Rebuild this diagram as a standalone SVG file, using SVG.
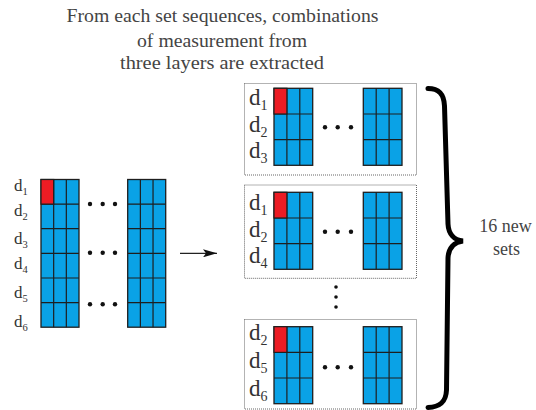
<svg xmlns="http://www.w3.org/2000/svg" xmlns:xlink="http://www.w3.org/1999/xlink" width="536" height="410" viewBox="0 0 536 410">
  <style>
    .txt { fill: #444; font-family: "Liberation Serif", "DejaVu Serif", serif; }
    .lbl { fill: #333; font-family: "Liberation Serif", "DejaVu Serif", serif; }
    .cell { fill: #0aa2e6; stroke: #1e1e1e; stroke-width: 1.3; }
    .grid { stroke: #1e1e1e; stroke-width: 1.2; }
    .red { fill: #ec1c24; stroke: #1e1e1e; stroke-width: 1.2; }
    .frame { fill: none; stroke: #666; stroke-width: 1; stroke-dasharray: 1 1; }
    .dot { fill: #111; }
  </style>
  <defs>
    <!-- 6-row measurement column, 3 cells wide -->
    <g id="col6">
      <rect class="cell" x="0" y="0" width="38" height="147.7"/>
      <path class="grid" d="M12.67,0V147.7M25.33,0V147.7M0,24.6H38M0,49.2H38M0,73.8H38M0,98.5H38M0,123.1H38"/>
    </g>
    <!-- 3-row measurement column, 3 cells wide -->
    <g id="col3">
      <rect class="cell" x="0" y="0" width="38.7" height="77"/>
      <path class="grid" d="M12.9,0V77M25.8,0V77M0,25.7H38.7M0,51.3H38.7"/>
    </g>
    <marker id="arrowhead" markerWidth="14" markerHeight="8" refX="14" refY="4" orient="auto" markerUnits="userSpaceOnUse">
      <path d="M0,0 L14,4 L0,8 L3,4 Z" fill="#111"/>
    </marker>
  </defs>

  <!-- title -->
  <g id="title" class="txt" font-size="18" text-anchor="middle">
    <text x="222.5" y="21.5" textLength="312" lengthAdjust="spacingAndGlyphs">From each set sequences, combinations</text>
    <text x="222" y="46.5" textLength="170" lengthAdjust="spacingAndGlyphs">of measurement from</text>
    <text x="222" y="68.5" textLength="204" lengthAdjust="spacingAndGlyphs">three layers are extracted</text>
  </g>

  <!-- original set with six layers -->
  <g id="source-set">
    <use xlink:href="#col6" x="41" y="179.5"/>
    <rect class="red" x="41" y="179.5" width="12.67" height="24.6"/>
    <use xlink:href="#col6" x="127.7" y="179.5"/>
    <g class="dot">
      <circle cx="90" cy="204" r="2.2"/><circle cx="102.7" cy="204" r="2.2"/><circle cx="115" cy="204" r="2.2"/>
      <circle cx="90" cy="252.7" r="2.2"/><circle cx="102.7" cy="252.7" r="2.2"/><circle cx="115" cy="252.7" r="2.2"/>
      <circle cx="90" cy="304.3" r="2.2"/><circle cx="102.7" cy="304.3" r="2.2"/><circle cx="115" cy="304.3" r="2.2"/>
    </g>
    <g class="lbl" font-size="17">
      <text x="14" y="190.7">d<tspan font-size="10.5" dy="4">1</tspan></text>
      <text x="14" y="215.7">d<tspan font-size="10.5" dy="4">2</tspan></text>
      <text x="14" y="244">d<tspan font-size="10.5" dy="4">3</tspan></text>
      <text x="14" y="269">d<tspan font-size="10.5" dy="4">4</tspan></text>
      <text x="14" y="298">d<tspan font-size="10.5" dy="4">5</tspan></text>
      <text x="14" y="327">d<tspan font-size="10.5" dy="4">6</tspan></text>
    </g>
  </g>

  <!-- connectors -->
  <g id="connectors">
    <line x1="180" y1="253.3" x2="217" y2="253.3" stroke="#222" stroke-width="1.2" marker-end="url(#arrowhead)"/>
  </g>

  <!-- extracted set d1 d2 d3 -->
  <g id="set-d1-d2-d3">
    <rect class="frame" x="244.5" y="83.5" width="172" height="91.5"/>
    <use xlink:href="#col3" x="274" y="88.3"/>
    <rect class="red" x="274" y="88.3" width="12.9" height="25.7"/>
    <use xlink:href="#col3" x="363.3" y="88.3"/>
    <g class="dot"><circle cx="325" cy="127.3" r="2.2"/><circle cx="337.7" cy="127.3" r="2.2"/><circle cx="351" cy="127.3" r="2.2"/></g>
    <g class="lbl" font-size="23">
      <text x="249" y="105">d<tspan font-size="14" dy="5">1</tspan></text>
      <text x="249" y="131.7">d<tspan font-size="14" dy="5">2</tspan></text>
      <text x="249" y="158.3">d<tspan font-size="14" dy="5">3</tspan></text>
    </g>
  </g>

  <!-- extracted set d1 d2 d4 -->
  <g id="set-d1-d2-d4">
    <rect class="frame" x="244.5" y="185" width="172" height="93.3"/>
    <use xlink:href="#col3" x="274" y="192.3"/>
    <rect class="red" x="274" y="192.3" width="12.9" height="25.7"/>
    <use xlink:href="#col3" x="363.3" y="192.3"/>
    <g class="dot"><circle cx="325" cy="231.7" r="2.2"/><circle cx="337.7" cy="231.7" r="2.2"/><circle cx="351" cy="231.7" r="2.2"/></g>
    <g class="lbl" font-size="23">
      <text x="249" y="210">d<tspan font-size="14" dy="5">1</tspan></text>
      <text x="249" y="236.7">d<tspan font-size="14" dy="5">2</tspan></text>
      <text x="249" y="262.7">d<tspan font-size="14" dy="5">4</tspan></text>
    </g>
  </g>

  <!-- vertical ellipsis between sets -->
  <g id="more-sets" class="dot">
    <circle cx="336" cy="287" r="1.8"/><circle cx="336" cy="297" r="1.8"/><circle cx="336" cy="307" r="1.8"/>
  </g>

  <!-- extracted set d2 d5 d6 -->
  <g id="set-d2-d5-d6">
    <rect class="frame" x="244.5" y="319.5" width="172" height="89.5"/>
    <use xlink:href="#col3" x="274" y="326.7"/>
    <rect class="red" x="274" y="326.7" width="12.9" height="25.7"/>
    <use xlink:href="#col3" x="363.3" y="326.7"/>
    <g class="dot"><circle cx="325" cy="367.3" r="2.2"/><circle cx="337.7" cy="367.3" r="2.2"/><circle cx="351" cy="367.3" r="2.2"/></g>
    <g class="lbl" font-size="23">
      <text x="249" y="340">d<tspan font-size="14" dy="5">2</tspan></text>
      <text x="249" y="368.3">d<tspan font-size="14" dy="5">5</tspan></text>
      <text x="249" y="396">d<tspan font-size="14" dy="5">6</tspan></text>
    </g>
  </g>

  <!-- brace grouping the new sets -->
  <g id="brace">
    <path d="M428,88.5 C439,88.5 444,94 444.5,106 L448,224 C448.5,234 454,240 463,241 C454,242 448.5,248 448,258 L446.5,390 C446,402 440,407 428,407.5" fill="none" stroke="#000" stroke-width="5" stroke-linecap="round"/>
  </g>
  <g id="brace-label" class="txt" font-size="18" text-anchor="middle">
    <text x="505.5" y="231.7">16 new</text>
    <text x="506.5" y="255">sets</text>
  </g>
</svg>
